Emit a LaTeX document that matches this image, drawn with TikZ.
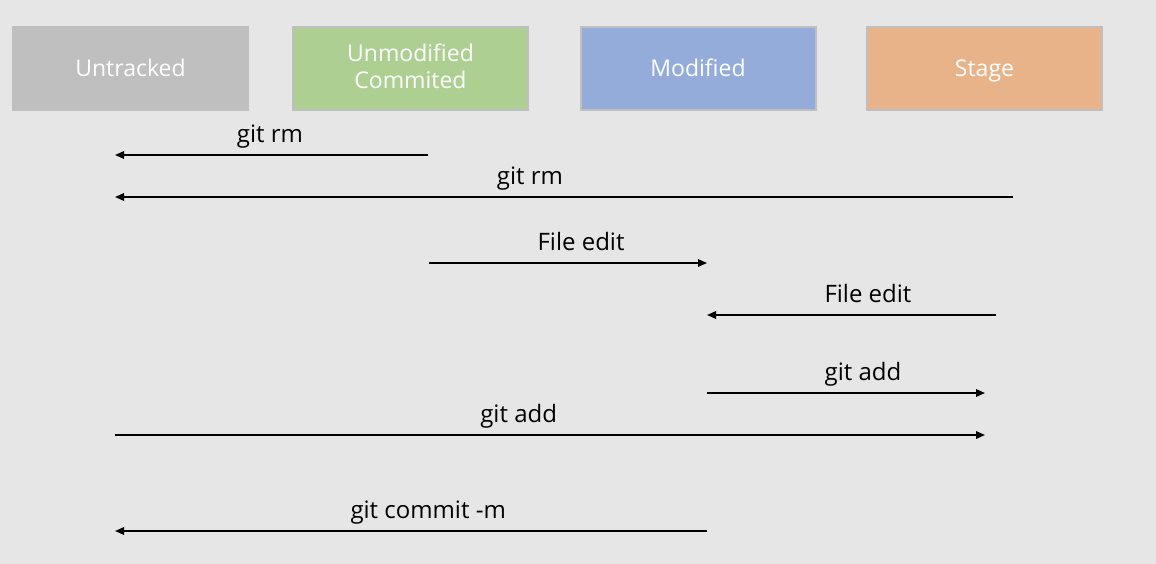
\documentclass[tikz,border=0pt]{standalone}
\usepackage{fontspec}
\setmainfont{Open Sans}
\usetikzlibrary{arrows.meta}
\definecolor{bg}{HTML}{E6E6E6}
\definecolor{edge}{HTML}{BFBFBF}
\definecolor{cUntr}{HTML}{BFBFBF}
\definecolor{cUnmod}{HTML}{ADCF92}
\definecolor{cMod}{HTML}{94ACD9}
\definecolor{cStage}{HTML}{E9B38A}
\tikzset{
  state/.style={draw=edge, line width=2pt, minimum width=235pt, minimum height=83pt,
    text=white, align=center, inner sep=0pt,
    execute at begin node={\rule{0pt}{21.5pt}}, execute at end node={\vphantom{g}},
    font=\fontsize{23}{27}\selectfont},
  flow/.style={line width=1.6pt, -{Triangle[length=9pt,width=7.5pt]}},
  lbl/.style={anchor=base, yshift=12.5pt, inner sep=0pt, font=\fontsize{24}{28}\selectfont, text=black}
}
\begin{document}
\begin{tikzpicture}[x=1pt,y=-1pt]
\fill[bg] (0,0) rectangle (1156,564);
\useasboundingbox (0,0) rectangle (1156,564);
\node[state, fill=cUntr] (untr) at (130.5,68.5) {Untracked};
\node[state, fill=cUnmod] (unmod) at (410.5,68.5) {Unmodified\\Commited};
\node[state, fill=cMod] (mod) at (698,68.5) {Modified};
\node[state, fill=cStage] (stage) at (984.5,68.5) {Stage};

\coordinate (a1s) at (428,155); \coordinate (a1e) at (115,155);
\coordinate (a2s) at (1013,197); \coordinate (a2e) at (115,197);
\coordinate (a3s) at (429,263); \coordinate (a3e) at (707,263);
\coordinate (a4s) at (996,315); \coordinate (a4e) at (707,315);
\coordinate (a5s) at (707,393); \coordinate (a5e) at (985,393);
\coordinate (a6s) at (115,435); \coordinate (a6e) at (985,435);
\coordinate (a7s) at (707,531); \coordinate (a7e) at (115,531);

\draw[flow] (a1s) -- node[lbl, pos=0.505] (l1) {git rm} (a1e);
\draw[flow] (a2s) -- node[lbl, pos=0.538] (l2) {git rm} (a2e);
\draw[flow] (a3s) -- node[lbl, pos=0.547] (l3) {File edit} (a3e);
\draw[flow] (a4s) -- node[lbl, pos=0.443] (l4) {File edit} (a4e);
\draw[flow] (a5s) -- node[lbl, pos=0.561] (l5) {git add} (a5e);
\draw[flow] (a6s) -- node[lbl, pos=0.464] (l6) {git add} (a6e);
\draw[flow] (a7s) -- node[lbl, pos=0.471] (l7) {git commit -m} (a7e);
\end{tikzpicture}
\end{document}
